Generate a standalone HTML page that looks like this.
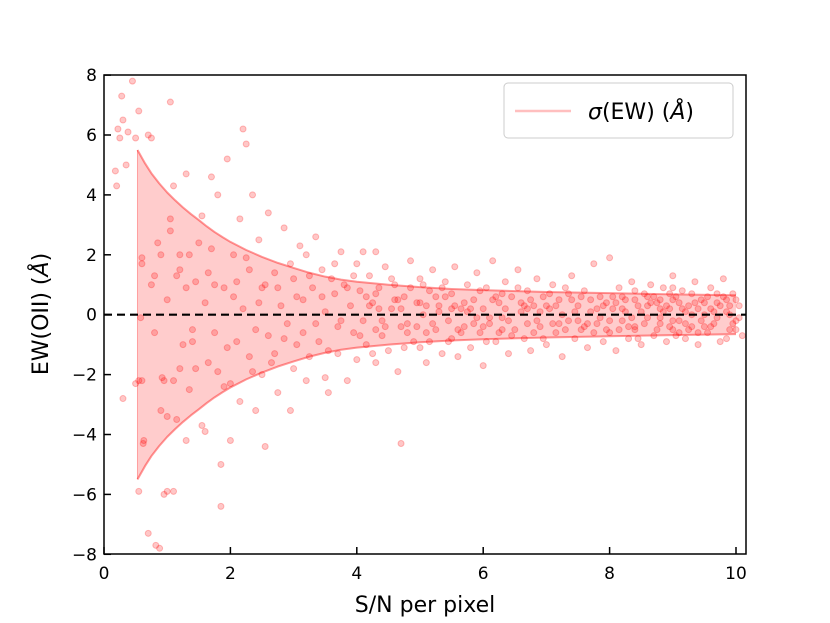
<!DOCTYPE html>
<html><head><meta charset="utf-8"><style>
body{margin:0;background:#fff;}
svg{display:block;font-family:"DejaVu Sans","Liberation Sans",sans-serif;}
</style></head><body>
<svg id="chart" width="830" height="623" viewBox="0 0 830 623">
<g id="band"></g>
<g id="pts"></g>
<line x1="104" y1="314.7" x2="746" y2="314.7" stroke="#000" stroke-width="2.2" stroke-dasharray="8,5"/>
<rect x="104" y="75" width="642" height="479" fill="none" stroke="#000" stroke-width="1.5"/>
<g id="ticks"></g>
<text x="425" y="612" font-size="22" text-anchor="middle">S/N per pixel</text>
<text transform="translate(48,314) rotate(-90)" font-size="22" text-anchor="middle">EW(OII) (<tspan font-style="italic">Å</tspan>)</text>
<g>
<rect x="504" y="83" width="229" height="55" rx="4" fill="#fff" fill-opacity="0.8" stroke="#ccc"/>
<line x1="515" y1="111" x2="571" y2="111" stroke="#f00" stroke-opacity="0.25" stroke-width="2.5"/>
<text x="588" y="119" font-size="22"><tspan font-style="italic">σ</tspan>(EW) (<tspan font-style="italic">Å</tspan>)</text>
</g>
</svg>
<script>
const xTicks=[0,2,4,6,8,10];
const yTicks=[-8,-6,-4,-2,0,2,4,6,8];
const yTickLabels=["−8","−6","−4","−2","0","2","4","6","8"];
const bandX=[0.53,0.65,0.75,0.875,1,1.125,1.25,1.375,1.5,1.625,1.75,1.875,2,2.25,2.5,2.75,3,3.25,3.5,3.75,4,4.5,5,5.5,6,7,8,9,10];
const bandSigma=[5.5,5.05,4.72,4.38,4.08,3.82,3.58,3.36,3.16,2.95,2.76,2.59,2.43,2.16,1.93,1.73,1.56,1.4,1.27,1.17,1.1,1.0,0.92,0.86,0.82,0.76,0.72,0.68,0.65];
const points=[[0.18,4.8],[0.2,4.3],[0.22,6.2],[0.28,7.3],[0.25,5.9],[0.3,6.5],[0.35,5.0],[0.38,6.1],[0.45,7.8],[0.5,5.9],[0.55,6.8],[0.6,1.9],[0.6,1.7],[0.58,-0.1],[0.55,-2.2],[0.6,-2.2],[0.5,-2.3],[0.3,-2.8],[0.55,-5.9],[0.62,-4.3],[0.63,-4.2],[0.7,-7.3],[0.82,-7.7],[0.88,-7.8],[0.75,1.0],[0.8,-0.6],[0.85,2.4],[0.75,5.9],[0.7,6.0],[0.8,1.3],[0.9,2.0],[0.95,-2.2],[0.92,-2.1],[0.9,-3.2],[1.0,-3.4],[1.0,-5.9],[0.95,-6.0],[1.1,-5.9],[1.05,7.1],[1.0,0.5],[1.05,3.2],[1.05,2.8],[1.1,4.3],[1.1,-2.2],[1.15,-3.5],[1.2,-1.8],[1.2,1.5],[1.2,2.0],[1.3,4.7],[1.3,0.9],[1.35,-2.5],[1.3,-4.2],[1.25,-1.0],[1.4,-0.5],[1.4,-0.9],[1.45,1.1],[1.5,2.4],[1.55,3.3],[1.55,-3.7],[1.6,-3.9],[1.6,0.4],[1.65,-1.6],[1.7,4.6],[1.7,2.2],[1.75,1.0],[1.8,4.0],[1.8,-1.9],[1.85,-5.0],[1.85,-6.4],[1.9,0.9],[1.9,-2.4],[1.95,5.2],[2.0,-4.2],[2.0,-2.3],[2.05,2.0],[2.1,1.1],[2.1,-0.9],[2.15,3.2],[2.2,0.2],[2.2,6.2],[2.25,5.7],[2.3,1.5],[2.3,-1.4],[2.35,4.0],[2.4,-3.2],[2.4,-0.5],[2.45,2.5],[2.5,0.9],[2.5,-2.0],[2.55,-4.4],[2.6,-0.7],[2.6,3.4],[2.7,1.4],[2.7,-1.3],[2.75,-2.6],[2.8,0.3],[2.85,2.9],[2.9,-0.3],[2.95,-3.2],[3.0,1.2],[3.0,-1.8],[3.05,-1.0],[3.1,2.3],[3.15,0.5],[3.2,2.0],[3.2,-2.2],[3.25,-1.4],[3.3,0.9],[3.35,2.6],[3.4,-0.9],[3.45,1.5],[3.5,0.1],[3.5,-2.1],[3.55,-2.6],[3.6,1.2],[3.65,0.7],[3.7,-0.4],[3.7,-1.3],[3.75,2.1],[3.8,1.0],[3.85,-2.2],[3.9,0.3],[3.95,-0.6],[4.0,1.7],[4.0,-1.5],[4.05,0.8],[4.1,2.1],[4.1,-0.2],[4.15,-1.0],[4.2,1.3],[4.25,0.4],[4.3,-1.6],[4.3,2.1],[4.35,0.9],[4.4,-0.7],[4.45,1.6],[4.5,-1.2],[4.55,0.2],[4.6,1.0],[4.65,-1.9],[4.7,-4.3],[4.75,0.6],[4.8,-0.3],[4.85,1.8],[4.9,-0.9],[4.95,0.4],[5.0,1.2],[5.0,-1.1],[5.05,0.0],[5.1,-1.6],[5.15,0.8],[5.2,1.5],[5.25,-0.5],[5.3,0.3],[5.35,-1.3],[5.4,1.1],[5.45,-0.2],[5.5,0.7],[5.5,-0.8],[5.55,1.6],[5.6,-1.4],[5.65,0.2],[5.7,-0.4],[5.75,1.0],[5.8,-1.1],[5.85,0.5],[5.9,1.4],[5.95,-0.6],[6.0,0.2],[6.0,-1.7],[6.05,0.9],[6.1,-0.3],[6.15,1.8],[6.2,-0.9],[6.25,0.4],[6.3,-0.1],[6.35,1.1],[6.4,-1.3],[6.45,0.6],[6.5,-0.5],[6.55,1.5],[6.6,0.1],[6.65,-0.8],[6.7,0.8],[6.75,-1.2],[6.8,0.3],[6.85,1.2],[6.9,-0.4],[6.95,0.6],[7.0,-1.0],[7.05,0.2],[7.1,1.0],[7.15,-0.6],[7.2,0.5],[7.25,-1.4],[7.3,0.9],[7.35,-0.2],[7.4,1.3],[7.45,-0.8],[7.5,0.3],[7.55,-0.5],[7.6,0.8],[7.65,-1.1],[7.7,0.1],[7.75,1.7],[7.8,-0.3],[7.85,0.6],[7.9,-0.9],[7.95,0.4],[8.0,1.9],[8.0,-0.6],[8.05,0.2],[8.1,-1.2],[8.15,0.9],[8.2,-0.2],[8.25,0.5],[8.3,-0.8],[8.35,1.1],[8.4,-0.4],[8.45,0.3],[8.5,-1.0],[8.55,0.7],[8.6,-0.1],[8.65,1.0],[8.7,-0.7],[8.75,0.4],[8.8,-0.3],[8.85,0.9],[8.9,-0.9],[8.95,0.2],[9.0,1.3],[9.0,-0.5],[9.05,0.6],[9.1,-0.2],[9.15,0.8],[9.2,-0.8],[9.25,0.3],[9.3,-0.4],[9.35,1.1],[9.4,-1.0],[9.45,0.5],[9.5,0.0],[9.55,-0.6],[9.6,0.9],[9.65,-0.3],[9.7,0.4],[9.75,-0.9],[9.8,1.2],[9.85,0.1],[9.9,-0.5],[9.95,0.7],[10.0,-0.2],[10.05,0.3],[10.1,-0.7],[4.2,0.3],[4.4,-0.2],[4.6,0.5],[4.8,-0.6],[5.0,0.4],[5.2,-0.3],[5.4,0.6],[5.6,-0.5],[5.8,0.2],[6.0,-0.4],[6.2,0.6],[6.4,-0.2],[6.6,0.4],[6.8,-0.6],[7.0,0.3],[7.2,-0.3],[7.4,0.5],[7.6,-0.4],[7.8,0.2],[8.0,-0.2],[8.2,0.6],[8.4,-0.5],[8.6,0.3],[8.8,-0.1],[9.0,0.5],[9.2,-0.3],[9.4,0.2],[9.6,-0.4],[9.8,0.6],[10.0,-0.5],[4.3,-0.5],[4.7,0.2],[5.1,-0.6],[5.3,0.1],[5.7,0.4],[6.1,-0.1],[6.3,0.7],[6.7,-0.3],[6.9,0.1],[7.3,-0.5],[7.7,0.5],[8.1,0.4],[8.3,-0.4],[8.7,0.6],[8.9,0.3],[9.1,-0.6],[9.3,0.7],[9.5,0.4],[9.7,-0.1],[9.9,0.3],[8.5,0.1],[8.8,0.5],[9.2,0.1],[9.6,0.2],[9.0,-0.2],[8.4,0.5],[9.4,-0.6],[10.0,0.5],[9.85,-0.8],[8.95,-0.4],
[1.15,1.3],[1.35,2.0],[1.45,-1.8],[1.65,1.4],[1.75,-0.6],[1.95,-1.1],[2.05,0.6],[2.15,-2.9],[2.25,1.9],[2.35,-1.9],[2.45,0.4],[2.55,1.0],[2.65,-1.6],[2.75,0.9],[2.85,-0.8],[2.95,1.7],[3.05,0.6],[3.15,-0.6],[3.25,1.3],[3.35,-0.3],[3.45,0.6],[3.55,-1.2],[3.65,1.7],[3.75,-0.2],[3.85,0.9],[3.95,1.3],[4.05,-0.7],[4.15,0.6],[4.25,-1.3],[4.35,0.2],[4.45,-0.4],[4.55,1.2],[4.65,0.5],[4.75,-1.1],[4.85,0.9],[4.95,-0.4],[5.05,1.0],[5.15,-0.9],[5.25,0.6],[5.35,0.9],[5.45,-0.9],[5.55,0.3],[5.65,-0.6],[5.75,0.1],[5.85,-0.3],[5.95,0.8],[6.05,-0.9],[6.15,0.5],[6.25,-0.6],[6.35,0.2],[6.45,-0.7],[6.55,0.9],[6.65,0.3],[6.75,0.5],[6.85,-0.2],[6.95,-0.8],[7.05,0.7],[7.15,0.3],[7.25,0.0],[7.35,0.7],[7.45,0.1],[7.55,0.6],[7.65,-0.3],[7.75,-0.6],[7.85,-0.1],[7.95,-0.5],[8.05,0.6],[8.15,-0.5],[8.25,0.1],[8.35,-0.1],[8.45,-0.8],[8.55,-0.3],[8.65,0.4],[8.75,-0.5],[8.85,0.1],[8.95,0.7],[9.05,-0.7],[9.15,0.2],[9.25,-0.5],[9.35,0.4],[9.45,-0.2],[9.55,0.6],[9.65,0.1],[9.75,0.3],[9.85,0.5],[9.95,-0.3],[10.05,-0.1],[9.1,0.4],[9.3,0.0],[9.5,-0.4],[9.7,0.7],[9.9,0.0],[8.6,0.6],[8.8,0.2],[9.0,0.9],[8.2,0.2],[8.4,0.8],[7.9,0.3],[7.5,-0.2],[7.1,-0.3],[6.7,0.2],[6.3,-0.5],[5.9,-0.1],[5.5,0.2],[5.1,0.3],[4.7,-0.4],[4.3,0.7]];
const NS="http://www.w3.org/2000/svg";
function sx(v){return 104+v*63.2;}
function sy(v){return 314.7-v*29.95;}
function mk(tag,attrs,parent){const e=document.createElementNS(NS,tag);for(const k in attrs)e.setAttribute(k,attrs[k]);parent.appendChild(e);return e;}
const band=document.getElementById('band');
let up=bandX.map((x,i)=>sx(x)+","+sy(bandSigma[i]));
let lo=bandX.map((x,i)=>sx(x)+","+sy(-bandSigma[i]));
const poly=mk('polygon',{points:up.concat(lo.slice().reverse()).join(' '),fill:'#f00','fill-opacity':0.2,stroke:'none'},band);


const ul=mk('polyline',{points:up.join(' '),fill:'none',stroke:'#f00','stroke-opacity':0.4,'stroke-width':2,'stroke-linejoin':'round'},band);


const ll=mk('polyline',{points:lo.join(' '),fill:'none',stroke:'#f00','stroke-opacity':0.4,'stroke-width':2,'stroke-linejoin':'round'},band);


const edge=mk('line',{x1:sx(bandX[0]),y1:sy(bandSigma[0]),x2:sx(bandX[0]),y2:sy(-bandSigma[0]),stroke:'#f00','stroke-opacity':0.3,'stroke-width':1},band);


const pg=document.getElementById('pts');
points.forEach(p=>{
 const c=mk('circle',{cx:sx(p[0]),cy:sy(p[1]),r:3,fill:'#f00','fill-opacity':0.22,stroke:'#f00','stroke-opacity':0.25,'stroke-width':1},pg);
 
 
});
const tg=document.getElementById('ticks');
xTicks.forEach(v=>{
 const l=mk('line',{x1:sx(v),y1:554,x2:sx(v),y2:547,stroke:'#000','stroke-width':1.5},tg);
 
 
 const t=mk('text',{x:sx(v),y:579,'font-size':17,'text-anchor':'middle'},tg);
 t.textContent=v;
 
 
});
yTicks.forEach((v,i)=>{
 const l=mk('line',{x1:104,y1:sy(v),x2:111,y2:sy(v),stroke:'#000','stroke-width':1.5},tg);
 
 
 const t=mk('text',{x:97,y:sy(v)+6,'font-size':17,'text-anchor':'end'},tg);
 t.textContent=yTickLabels[i];
 
 
});
</script>
</body></html>
